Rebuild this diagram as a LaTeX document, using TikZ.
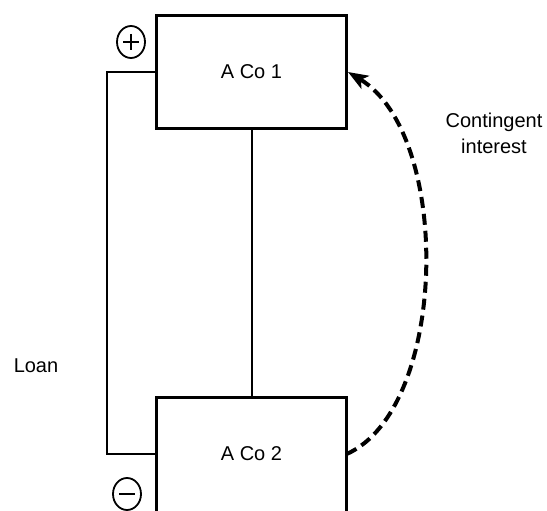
\documentclass[tikz,border=0pt]{standalone}
\usepackage{fontspec}
\setmainfont{Liberation Sans}
\usetikzlibrary{positioning,arrows.meta,calc}

\begin{document}
\begin{tikzpicture}[
  x=1pt,y=-1pt,
  every node/.style={font=\fontsize{20}{26}\selectfont},
  company/.style={minimum width=190pt,minimum height=113pt,inner sep=0pt},
  border/.style={draw=black,line width=3pt},
  link/.style={draw=black,line width=2pt},
  contingent/.style={draw=black,line width=4pt,dash pattern=on 11pt off 6pt,-{Stealth[length=20pt,width=15pt,inset=5pt]}},
  sign/.style={line width=1.8pt}
]
\useasboundingbox (0,0) rectangle (547,511);
\clip (0,0) rectangle (547,511);

% 二つの会社
\node[company,border] (co1) at (251.5,72) {A Co 1};
\node[company] (co2) at (251.5,454) {A Co 2};
% 下の箱は画面の外まで続く
\draw[border] ($(co2.south west)+(0,20)$) -- (co2.north west)
  -- (co2.north east) -- ($(co2.south east)+(0,20)$);

% 所有関係と貸付
\draw[link] (co1.south) -- (co2.north);
\draw[link] (co1.west) -- ++(-48,0) coordinate (loanbend) |- (co2.west);
\node (loan) at (36,366) {Loan};

% 符号
\draw[sign] (131,42) ellipse[x radius=14, y radius=16];
\draw[sign] (123,42) -- (139,42) (131,34) -- (131,50);
\draw[sign] (127,494) ellipse[x radius=14, y radius=16];
\draw[sign] (119,494) -- (135,494);

% 条件付き持分
\draw[contingent] (co2.east) .. controls (448,409) and (453,135) .. (co1.east);
\node[align=center] (interest) at (494,133) {Contingent\\interest};

\end{tikzpicture}
\end{document}
